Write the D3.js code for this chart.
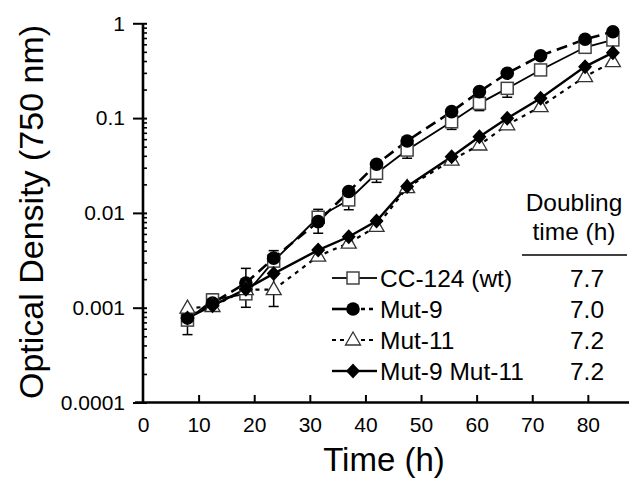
<!DOCTYPE html>
<html>
<head>
<meta charset="utf-8">
<script src="https://cdn.jsdelivr.net/npm/d3@7"></script>
<style>
  body { margin: 0; background: #fff; }
  text { font-family: "Liberation Sans", Arial, Helvetica, sans-serif; fill: #000; }
</style>
</head>
<body>
<script>
// sampling times (h)
var times = [8, 12.5, 18.5, 23.5, 31.5, 37, 42, 47.5, 55.5, 60.5, 65.5, 71.5, 79.5, 84.5];

// optical density at 750 nm
var wt     = [0.00074, 0.00121, 0.0014, 0.0031, 0.0090, 0.0137, 0.0262, 0.046, 0.0915, 0.143, 0.206, 0.322, 0.558, 0.667];
var mut9   = [0.00078, 0.00112, 0.00182, 0.00333, 0.0081, 0.0168, 0.0326, 0.0574, 0.117, 0.19, 0.297, 0.455, 0.678, 0.815];
var mut11  = [0.00099, 0.00103, 0.00155, 0.00155, 0.0035, 0.0048, 0.0072, 0.0185, 0.036, 0.052, 0.085, 0.132, 0.274, 0.394];
var mut911 = [0.00078, 0.00105, 0.00157, 0.00229, 0.00405, 0.0056, 0.0082, 0.019, 0.0392, 0.0637, 0.0996, 0.162, 0.349, 0.49];

// error bar ends (null = none visible)
var wtLo    = [0.00052, null, 0.00101, null, 0.0061, 0.0108, 0.021, 0.0377, 0.076, 0.12, 0.166, null, null, null];
var wtHi    = [null, 0.0014, 0.0026, 0.0040, 0.0109, null, null, null, null, null, null, null, null, null];
var mut11Lo = [null, null, null, 0.00103, null, null, null, null, null, null, null, null, null, null];
var mut11Hi = [null, null, null, 0.0022, null, null, null, null, null, null, null, null, null, null];

var names     = ["CC-124 (wt)", "Mut-9", "Mut-11", "Mut-9 Mut-11"];
var doubling  = ["7.7", "7.0", "7.2", "7.2"];
var yTicks    = [0.0001, 0.001, 0.01, 0.1, 1];
var xTicks    = [0, 10, 20, 30, 40, 50, 60, 70, 80];

var w = 629, h = 478;

var x = d3.scaleLinear().domain([0, 87.4]).range([143, 629]);
var y = d3.scaleLog().domain([0.0001, 1]).range([402.5, 23.3]);

var svg = d3.select("body").append("svg")
  .attr("width", w)
  .attr("height", h);

// minor ticks on the log axis
var minor = [];
yTicks.slice(0, -1).forEach(function(d) {
  for (var k = 2; k < 10; k++) minor.push(d * k);
});

svg.append("g")
  .attr("transform", "translate(143,0)")
  .call(d3.axisRight(y).tickValues(minor).tickSize(4).tickFormat(""))
  .call(function(g) {
    g.select(".domain").remove();
    g.selectAll(".tick line").attr("stroke", "#000").attr("stroke-width", 1.6);
  });

var yAxis = svg.append("g")
  .attr("transform", "translate(143,0)")
  .call(d3.axisLeft(y).tickValues(yTicks).tickSize(10).tickPadding(8)
    .tickFormat(function(d) { return String(d); }));
yAxis.select(".domain").remove();
yAxis.selectAll(".tick line").attr("x2", -10).attr("x1", 4).attr("stroke", "#000").attr("stroke-width", 2);
yAxis.selectAll(".tick text").attr("font-size", 21).attr("font-family", null);

var xAxis = svg.append("g")
  .attr("transform", "translate(0,402)")
  .call(d3.axisBottom(x).tickValues(xTicks).tickSize(-7).tickPadding(15).tickFormat(d3.format("d")));
xAxis.select(".domain").remove();
xAxis.selectAll(".tick line").attr("stroke", "#000").attr("stroke-width", 2);
xAxis.selectAll(".tick").filter(function(d) { return d === 0; }).select("line").remove();
xAxis.selectAll(".tick text").attr("font-size", 21).attr("font-family", null);

// axis lines
svg.append("line").attr("x1", 143).attr("x2", 143).attr("y1", y(1)).attr("y2", 403.5)
  .attr("stroke", "#000").attr("stroke-width", 2.6);
svg.append("line").attr("x1", 135).attr("x2", 629).attr("y1", 402.5).attr("y2", 402.5)
  .attr("stroke", "#000").attr("stroke-width", 2.6);

// axis titles
svg.append("text")
  .attr("x", 384).attr("y", 471)
  .attr("text-anchor", "middle")
  .attr("font-size", 33)
  .text("Time (h)");

svg.append("text")
  .attr("transform", "translate(43,212)rotate(-90)")
  .attr("text-anchor", "middle")
  .attr("font-size", 34)
  .text("Optical Density (750 nm)");

// series definitions
var series = [
  { name: names[0], values: wt,     lo: wtLo,    hi: wtHi,    dash: null,   width: 1.8, shape: "square",   legL: null,  legR: null },
  { name: names[1], values: mut9,   lo: null,    hi: null,    dash: "11,6", width: 2.6, shape: "circle",   legL: null,  legR: "4,4" },
  { name: names[2], values: mut11,  lo: mut11Lo, hi: mut11Hi, dash: "4,5",  width: 2.2, shape: "triangle", legL: "4,4", legR: "4,4" },
  { name: names[3], values: mut911, lo: null,    hi: null,    dash: null,   width: 2.4, shape: "diamond",  legL: null,  legR: null }
];

var line = d3.line()
  .x(function(d, i) { return x(times[i]); })
  .y(function(d) { return y(d); });

function drawMarker(g, shape, cx, cy) {
  if (shape === "square") {
    g.append("rect").attr("x", cx - 6).attr("y", cy - 6).attr("width", 12).attr("height", 12)
      .attr("fill", "#fff").attr("stroke", "#444").attr("stroke-width", 1.5);
  } else if (shape === "circle") {
    g.append("circle").attr("cx", cx).attr("cy", cy).attr("r", 6.8).attr("fill", "#000");
  } else if (shape === "triangle") {
    g.append("path")
      .attr("d", "M" + cx + "," + (cy - 8) + "L" + (cx + 7.5) + "," + (cy + 5) + "L" + (cx - 7.5) + "," + (cy + 5) + "Z")
      .attr("fill", "#fff").attr("stroke", "#333").attr("stroke-width", 1.3);
  } else {
    g.append("path")
      .attr("d", "M" + cx + "," + (cy - 7.5) + "L" + (cx + 7) + "," + cy + "L" + cx + "," + (cy + 7.5) + "L" + (cx - 7) + "," + cy + "Z")
      .attr("fill", "#000");
  }
}

// error bars
series.forEach(function(s) {
  [s.lo, s.hi].forEach(function(arr) {
    if (!arr) return;
    arr.forEach(function(v, i) {
      if (v == null) return;
      var cx = x(times[i]);
      svg.append("line").attr("x1", cx).attr("x2", cx).attr("y1", y(s.values[i])).attr("y2", y(v))
        .attr("stroke", "#000").attr("stroke-width", 1.5);
      svg.append("line").attr("x1", cx - 5).attr("x2", cx + 5).attr("y1", y(v)).attr("y2", y(v))
        .attr("stroke", "#000").attr("stroke-width", 1.5);
    });
  });
});

// lines then markers
series.forEach(function(s) {
  svg.append("path")
    .attr("d", line(s.values))
    .attr("fill", "none")
    .attr("stroke", "#000")
    .attr("stroke-width", s.width)
    .attr("stroke-dasharray", s.dash);
});

series.forEach(function(s) {
  var g = svg.append("g");
  s.values.forEach(function(v, i) { drawMarker(g, s.shape, x(times[i]), y(v)); });
});

// legend with doubling times
var legendY = [278, 309, 340, 371];
series.forEach(function(s, i) {
  var ly = legendY[i];
  svg.append("line").attr("x1", 332).attr("x2", 353).attr("y1", ly).attr("y2", ly)
    .attr("stroke", "#000").attr("stroke-width", s.width).attr("stroke-dasharray", s.legL);
  svg.append("line").attr("x1", 353).attr("x2", 377).attr("y1", ly).attr("y2", ly)
    .attr("stroke", "#000").attr("stroke-width", s.width).attr("stroke-dasharray", s.legR);
  drawMarker(svg.append("g"), s.shape, 353, ly);
  svg.append("text").attr("x", 380).attr("y", ly + 9).attr("font-size", 24.5).text(s.name);
  svg.append("text").attr("x", 587).attr("y", ly + 9).attr("text-anchor", "middle")
    .attr("font-size", 24.5).text(doubling[i]);
});

svg.append("text").attr("x", 574).attr("y", 211).attr("text-anchor", "middle").attr("font-size", 24.5).text("Doubling");
svg.append("text").attr("x", 574).attr("y", 240).attr("text-anchor", "middle").attr("font-size", 24.5).text("time (h)");
svg.append("line").attr("x1", 522).attr("x2", 627).attr("y1", 255).attr("y2", 255)
  .attr("stroke", "#000").attr("stroke-width", 1.5);
</script>
</body>
</html>
